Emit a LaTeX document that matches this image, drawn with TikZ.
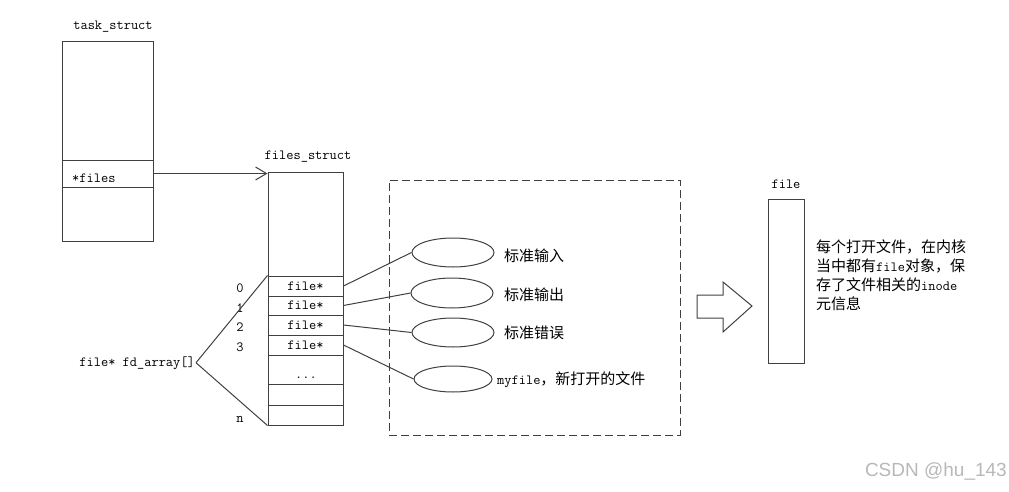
\documentclass[tikz,border=0pt]{standalone}
\usepackage{fontspec}
\newfontfamily\cjkfont{Noto Sans CJK SC}
\newfontfamily\wmfont{Liberation Sans}
\usetikzlibrary{shapes.geometric,arrows.meta}
\newcommand\zhtxt[1]{{\cjkfont\fontsize{15}{19}\selectfont #1}}
\begin{document}
\begin{tikzpicture}[x=1pt,y=-1pt,
  ln/.style={draw=black!75, line width=1pt},
  rbox/.style n args={2}{ln, rectangle, inner sep=0pt, minimum width=#1, minimum height=#2, font=\ttfamily\fontsize{14}{16}\selectfont},
  ell/.style n args={2}{ln, ellipse, inner sep=0pt, minimum width=#1, minimum height=#2},
  mono/.style={inner sep=0pt, font=\ttfamily\fontsize{14}{16}\selectfont, text=black},
  zh/.style={inner sep=0pt, font=\cjkfont\fontsize{15}{19}\selectfont, text=black}]
\useasboundingbox (0,0) rectangle (1009,492);

% task_struct
\node[rbox={91}{199}] (ts) at (107.5,141.5) {};
\node[rbox={91}{27}] (tsf) at (107.5,173.5) {};
\node[mono, anchor=base west] (tsfl) at (72,182) {*files};
\node[mono, anchor=base] (tsl) at (113,30) {task\_struct};

% files_struct
\node[rbox={75}{253}] (fs) at (305.5,298.5) {};
\node[mono, anchor=base] (fsl) at (308,160) {files\_struct};
\node[rbox={75}{20}] (r0) at (305.5,286) {file*};
\node[rbox={75}{19}] (r1) at (305.5,305.5) {file*};
\node[rbox={75}{20}] (r2) at (305.5,325) {file*};
\node[rbox={75}{20}] (r3) at (305.5,345) {file*};
\node[rbox={75}{29}] (rd) at (305.5,369.5) {};
\node[mono, anchor=base] (dots) at (306,378) {...};
\node[rbox={75}{21}] (r5) at (305.5,394.5) {};
\node[rbox={75}{20}] (rn) at (305.5,415) {};

\draw[ln, -{Straight Barb[length=11pt,width=13pt]}] (tsf.east) -- (tsf.east -| fs.west);

% indices
\node[mono, anchor=base] (i0) at (240,292) {0};
\node[mono, anchor=base] (i1) at (240,312) {1};
\node[mono, anchor=base] (i2) at (240,331) {2};
\node[mono, anchor=base] (i3) at (240,351) {3};
\node[mono, anchor=base] (in) at (240,422) {n};

\node[mono, anchor=base east, inner sep=1pt] (fd) at (196,366) {file* fd\_array[]};
\draw[ln] (fd.east) -- (r0.north west);
\draw[ln] (fd.east) -- (rn.south west);

% dashed group
\node[ln, dash pattern=on 8pt off 4pt, rectangle, inner sep=0pt, minimum width=291, minimum height=255] (grp) at (534.5,307.5) {};

\node[ell={82}{29}] (e1) at (453,252.5) {};
\node[ell={82}{30}] (e2) at (452,293) {};
\node[ell={82}{29}] (e3) at (453,332.5) {};
\node[ell={78}{26}] (e4) at (453,379) {};

\draw[ln] (r0.east) -- (e1.west);
\draw[ln] (r1.east) -- (e2.west);
\draw[ln] (r2.east) -- (e3.west);
\draw[ln] (r3.east) -- (e4.west);

\node[zh, anchor=base west] (l1) at (504,261) {标准输入};
\node[zh, anchor=base west] (l2) at (504,300) {标准输出};
\node[zh, anchor=base west] (l3) at (504,338) {标准错误};
\node[mono, anchor=base west] (l4) at (497,384) {myfile\zhtxt{，新打开的文件}};

% block arrow
\draw[ln] (697,295) -- (723,295) -- (723,282) -- (752,306) -- (723,332) -- (723,318) -- (697,318) -- cycle;

% file object
\node[rbox={36}{164}] (fobj) at (786,281) {};
\node[mono, anchor=base] (fobjl) at (786,188) {file};

\node[mono, anchor=base west] (d1) at (816,252) {\zhtxt{每个打开文件，在内核}};
\node[mono, anchor=base west] (d2) at (816,271) {\zhtxt{当中都有}file\zhtxt{对象，保}};
\node[mono, anchor=base west] (d3) at (816,290.5) {\zhtxt{存了文件相关的}inode};
\node[mono, anchor=base west] (d4) at (816,309.5) {\zhtxt{元信息}};

% watermark
\node[inner sep=0pt, anchor=base east, text=black!28, font=\wmfont\fontsize{19}{22}\selectfont] (wm) at (1007,476) {CSDN @hu\_143};
\end{tikzpicture}
\end{document}
